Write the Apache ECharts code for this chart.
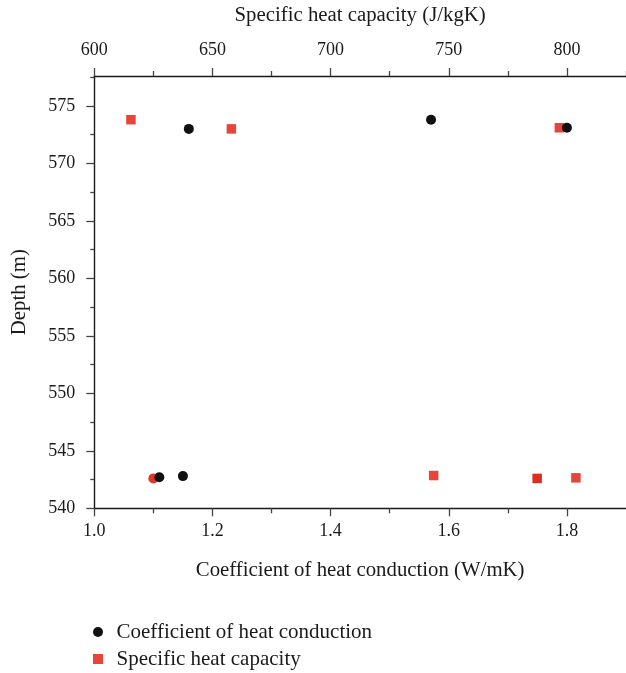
<!DOCTYPE html>
<html>
<head>
<meta charset="utf-8">
<script src="https://cdn.jsdelivr.net/npm/echarts@6/dist/echarts.min.js"></script>
<style>html,body{margin:0;padding:0;background:#fff}#c{width:626px;height:673px}</style>
</head>
<body>
<div id="c"></div>
<script>
// Series names
const seriesNames = ['Coefficient of heat conduction', 'Specific heat capacity'];
// Coefficient of heat conduction (W/mK) vs depth (m), bottom axis
const conductionX = [1.10, 1.11, 1.15, 1.16, 1.57, 1.80];
const conductionDepth = [542.6, 542.7, 542.8, 573.0, 573.8, 573.1];
const conductionColors = ['#e2362a', '#111111', '#111111', '#111111', '#111111', '#111111'];
// Specific heat capacity (J/kgK) vs depth (m), top axis
const heatX = [615.5, 658, 796.8, 743.6, 787.4, 803.8];
const heatDepth = [573.8, 573.0, 573.1, 542.85, 542.6, 542.65];
const heatColors = ['#e8443a', '#e8443a', '#e8443a', '#e8443a', '#dc2e1e', '#e8443a'];
// Tick values
const bottomMajorTicks = [1.0, 1.2, 1.4, 1.6, 1.8];
const bottomMinorTicks = [1.1, 1.3, 1.5, 1.7];
const topMajorTicks = [600, 650, 700, 750, 800];
const topMinorTicks = [625, 675, 725, 775, 825];
const depthMajorTicks = [540, 545, 550, 555, 560, 565, 570, 575];
const depthMinorTicks = [542.5, 547.5, 552.5, 557.5, 562.5, 567.5, 572.5, 577.5];

const FONT = "'Liberation Serif', 'DejaVu Serif', serif";
const TXT = '#1a1a1a';
const lineStyle = { color: '#1a1a1a', width: 1.4 };
const tickStyle = { color: '#444', width: 1.3 };
const nameStyle = { fontFamily: FONT, fontSize: 20.8, color: TXT };

function majorAxis(base, ticks, fmt, len, margin) {
  return Object.assign({
    type: 'value',
    axisLine: { show: true, lineStyle },
    axisTick: { show: true, inside: false, length: len, lineStyle: tickStyle, customValues: ticks },
    axisLabel: { show: true, customValues: ticks, formatter: fmt, fontFamily: FONT, fontSize: 18, color: TXT, margin },
    splitLine: { show: false },
    minorTick: { show: false }
  }, base);
}
function minorAxis(base, ticks, len) {
  return Object.assign({
    type: 'value',
    axisLine: { show: false },
    axisTick: { show: true, inside: false, length: len, lineStyle: tickStyle, customValues: ticks },
    axisLabel: { show: false },
    splitLine: { show: false }
  }, base);
}
function legendFor(name, icon, color, top) {
  return {
    orient: 'vertical', left: 88, top, itemGap: 0,
    itemWidth: 27, itemHeight: 10, symbolKeepAspect: true,
    data: [{ name, icon, itemStyle: { color, opacity: 1 } }],
    textStyle: { fontFamily: FONT, fontSize: 21, color: TXT }
  };
}

const chart = echarts.init(document.getElementById('c'), null, { renderer: 'canvas' });
chart.setOption({
  animation: false,
  backgroundColor: '#fff',
  grid: { left: 94.3, right: -3.8, top: 74.3, bottom: 164.7, containLabel: false },
  xAxis: [
    majorAxis({ position: 'bottom', min: 1.0, max: 1.9,
      name: 'Coefficient of heat conduction (W/mK)', nameLocation: 'middle', nameGap: 52,
      nameTextStyle: nameStyle },
      bottomMajorTicks, v => v.toFixed(1), 8, 14),
    majorAxis({ position: 'top', min: 600, max: 825,
      name: 'Specific heat capacity (J/kgK)', nameLocation: 'middle', nameGap: 50,
      nameTextStyle: nameStyle },
      topMajorTicks, v => String(Math.round(v)), 8, 17),
    minorAxis({ position: 'bottom', min: 1.0, max: 1.9 }, bottomMinorTicks, 5),
    minorAxis({ position: 'top', min: 600, max: 825 }, topMinorTicks, 5)
  ],
  yAxis: [
    majorAxis({ position: 'left', min: 540, max: 577.6,
      name: 'Depth (m)', nameLocation: 'middle', nameGap: 64,
      nameTextStyle: nameStyle },
      depthMajorTicks, v => String(Math.round(v)), 8, 19),
    minorAxis({ position: 'left', min: 540, max: 577.6 }, depthMinorTicks, 4)
  ],
  legend: [
    legendFor(seriesNames[0], 'circle', '#111111', 616.5),
    legendFor(seriesNames[1], 'path://M0,0H10V10H0Z', '#e8443a', 643.5)
  ],
  series: [
    {
      name: seriesNames[1], type: 'scatter', xAxisIndex: 1, yAxisIndex: 0,
      symbol: 'rect', symbolSize: 9.5,
      itemStyle: { color: '#e8443a', opacity: 1 },
      data: heatX.map((x, i) => ({ value: [x, heatDepth[i]], itemStyle: { color: heatColors[i], opacity: 1 } }))
    },
    {
      name: seriesNames[0], type: 'scatter', xAxisIndex: 0, yAxisIndex: 0,
      symbol: 'circle', symbolSize: 10,
      itemStyle: { color: '#111111', opacity: 1 },
      data: conductionX.map((x, i) => ({ value: [x, conductionDepth[i]], itemStyle: { color: conductionColors[i], opacity: 1 } }))
    }
  ]
});
</script>
</body>
</html>
